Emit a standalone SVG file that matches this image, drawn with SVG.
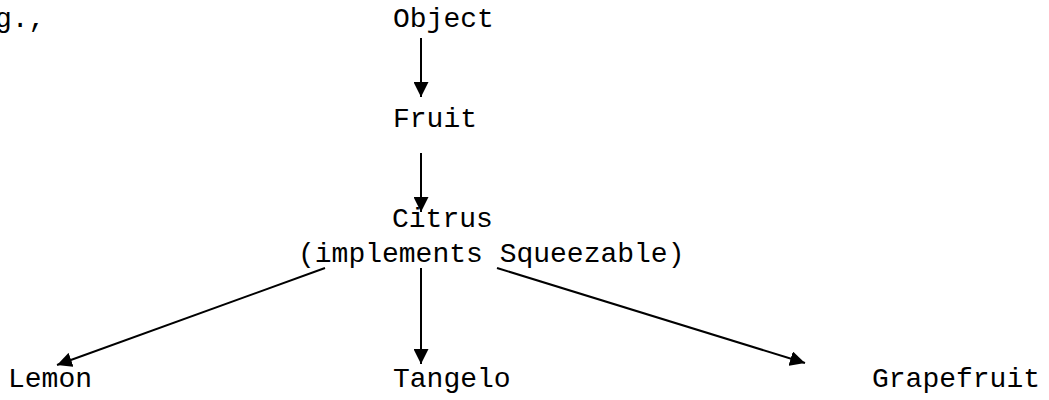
<svg xmlns="http://www.w3.org/2000/svg" width="1049" height="400" viewBox="0 0 1049 400">
  <style>
    text { font-family: "Liberation Mono", "Courier New", monospace; font-size: 28px; fill: #000; }
    .edge { stroke: #000; stroke-width: 2; fill: none; marker-end: url(#head); }
  </style>
  <defs>
    <marker id="head" markerUnits="userSpaceOnUse" markerWidth="15" markerHeight="15" refX="15" refY="7.5" orient="auto">
      <path d="M0,0 L15,7.5 L0,15 Z" fill="#000"/>
    </marker>
  </defs>
  <rect width="1049" height="400" fill="#fff"/>

  <text x="-5" y="27">g.,</text>

  <g id="object"><text x="393" y="27">Object</text></g>
  <g id="fruit"><text x="393" y="127">Fruit</text></g>
  <g id="citrus">
    <text x="392" y="227">Citrus</text>
    <text x="298" y="262">(implements Squeezable)</text>
  </g>
  <g id="lemon"><text x="8" y="387">Lemon</text></g>
  <g id="tangelo"><text x="393" y="387">Tangelo</text></g>
  <g id="grapefruit"><text x="872" y="387">Grapefruit</text></g>

  <g id="connectors">
    <line class="edge" x1="421" y1="38" x2="421" y2="97"/>
    <line class="edge" x1="421" y1="153" x2="421" y2="212"/>
    <line class="edge" x1="421" y1="268" x2="421" y2="364"/>
    <line class="edge" x1="325" y1="268" x2="57" y2="365"/>
    <line class="edge" x1="497" y1="268" x2="805" y2="363"/>
  </g>
</svg>
